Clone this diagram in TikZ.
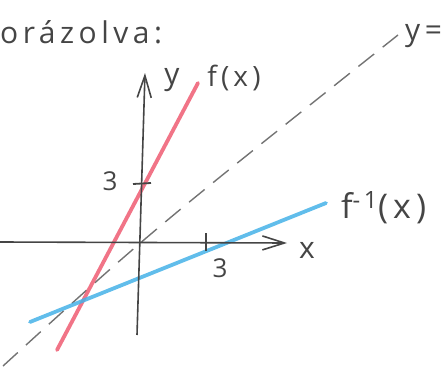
\documentclass[tikz,border=0pt]{standalone}
\usepackage{fontspec}
\newfontfamily\hand[LetterSpace=15]{Open Sans}
\usetikzlibrary{arrows.meta}
\definecolor{pencil}{HTML}{454545}
\definecolor{fred}{HTML}{EE5C72}
\definecolor{fblue}{HTML}{45B2E8}

\begin{document}
\begin{tikzpicture}[x=1pt,y=-1pt,
  lbl/.style={font=\hand\fontsize{30}{32}\selectfont,text=pencil,inner sep=0pt},
  num/.style={lbl,font=\hand\fontsize{26}{28}\selectfont},
  big/.style={lbl,font=\hand\fontsize{34}{36}\selectfont},
  axis/.style={draw=pencil,line width=1.6pt,-{Straight Barb[length=22pt,width=14pt]}},
  tickm/.style={draw=pencil,line width=1.8pt},
  diag/.style={draw=black!55,line width=1.4pt,dash pattern=on 20pt off 11pt},
  graph/.style={line width=3.8pt,line cap=round,opacity=.85}]
\useasboundingbox (0,0) rectangle (448,367);

% ---- heading
\node[lbl,anchor=base west] (title) at (0,43) {orázolva:};

% ---- the line y=x
\coordinate (d1) at (3,366);
\coordinate (d2) at (398,35);
\draw[diag] (d1) .. controls (150,232) .. (d2);
\node[lbl,anchor=base west] (yeq) at (405,40) {y=};

% ---- f and its inverse
\coordinate (f1) at (57,350);
\coordinate (f2) at (198,83);
\coordinate (g1) at (30,322);
\coordinate (g2) at (326,203);
\draw[graph,fred] (f1) -- (f2);
\draw[graph,fblue] (g1) -- (g2);

% ---- axes
\coordinate (xs) at (0,242);
\coordinate (xe) at (287,243);
\coordinate (ys) at (137,335);
\coordinate (ye) at (145,73);
\draw[axis] (xs) -- (xe);
\draw[axis] (ys) -- (ye);
\draw[tickm] (206,233) -- (206,251);
\draw[tickm] (133,184) -- (151,183);

% ---- labels
\node[lbl,anchor=base] (xlab) at (307,258) {x};
\node[lbl,anchor=base] (ylab) at (172,84) {y};
\node[num,anchor=base] (t3x) at (220,277) {3};
\node[num,anchor=base] (t3y) at (110,190) {3};
\node[lbl,anchor=base,font=\hand\fontsize{28}{30}\selectfont] (flab) at (234,86) {f(x)};
\node[big,anchor=base west] (finv) at (341,218) {f\textsuperscript{-1}(x)};
\end{tikzpicture}
\end{document}
